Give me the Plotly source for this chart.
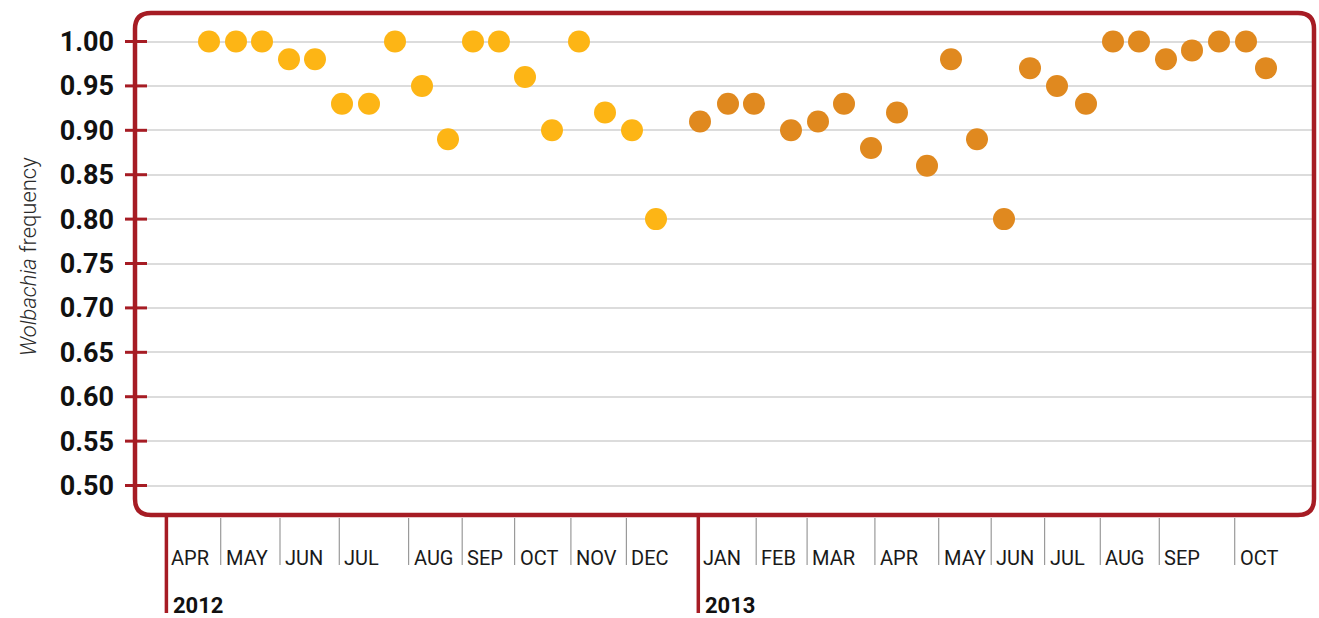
import plotly.graph_objects as go

# ---- data ----
# x = position along the sampling timeline (chart units), y = Wolbachia frequency
x_2012 = [7.4, 10.1, 12.7, 15.4, 18.0, 20.7, 23.4, 26.0, 28.7, 31.3, 33.8, 36.4,
          39.0, 41.7, 44.4, 47.0, 49.7, 52.1]
y_2012 = [1.00, 1.00, 1.00, 0.98, 0.98, 0.93, 0.93, 1.00, 0.95, 0.89, 1.00, 1.00,
          0.96, 0.90, 1.00, 0.92, 0.90, 0.80]

x_2013 = [56.5, 59.3, 61.9, 65.6, 68.3, 70.9, 73.6, 76.2, 79.2, 81.6, 84.2, 86.9,
          89.5, 92.2, 95.1, 97.8, 100.4, 103.1, 105.7, 108.4, 111.1, 113.1]
y_2013 = [0.91, 0.93, 0.93, 0.90, 0.91, 0.93, 0.88, 0.92, 0.86, 0.98, 0.89, 0.80,
          0.97, 0.95, 0.93, 1.00, 1.00, 0.98, 0.99, 1.00, 1.00, 0.97]

month_labels = ["APR", "MAY", "JUN", "JUL", "AUG", "SEP", "OCT", "NOV", "DEC",
                "JAN", "FEB", "MAR", "APR", "MAY", "JUN", "JUL", "AUG", "SEP", "OCT"]
month_starts = [3.14, 8.57, 14.5, 20.43, 27.36, 32.72, 37.96, 43.59, 49.14,
                56.33, 62.12, 67.21, 73.99, 80.37, 85.62, 90.96, 96.53, 102.43, 109.97]

year_labels = ["2012", "2013"]
year_starts = [3.14, 56.33]

y_ticks = [0.50, 0.55, 0.60, 0.65, 0.70, 0.75, 0.80, 0.85, 0.90, 0.95, 1.00]

# ---- styling ----
RED = "#A61C24"
C2012 = "#FDB515"
C2013 = "#E0891F"
FONT = "Roboto, 'Liberation Sans Narrow', sans-serif"

W, H = 1319, 618
ML, MR, MT, MB = 135, 5, 13, 103
PW, PH = W - ML - MR, H - MT - MB

fig = go.Figure()
fig.add_trace(go.Scatter(x=x_2012, y=y_2012, mode="markers", name="2012",
                         marker=dict(size=22, color=C2012, line=dict(width=0)),
                         showlegend=False))
fig.add_trace(go.Scatter(x=x_2013, y=y_2013, mode="markers", name="2013",
                         marker=dict(size=22, color=C2013, line=dict(width=0)),
                         showlegend=False))

shapes = []
# rounded border
rx, ry = 16 / PW, 16 / PH
path = (f"M {rx},0 L {1-rx},0 Q 1,0 1,{ry} L 1,{1-ry} Q 1,1 {1-rx},1 "
        f"L {rx},1 Q 0,1 0,{1-ry} L 0,{ry} Q 0,0 {rx},0 Z")
shapes.append(dict(type="path", xref="paper", yref="paper", path=path,
                   line=dict(color=RED, width=4.5), layer="above"))
# y tick marks crossing the left border
for t in y_ticks:
    shapes.append(dict(type="line", xref="paper", yref="y",
                       x0=-10 / PW, x1=12 / PW, y0=t, y1=t,
                       line=dict(color=RED, width=3), layer="above"))
# month separators
for m, s in zip(month_labels, month_starts):
    if s in year_starts:
        continue
    shapes.append(dict(type="line", xref="x", yref="paper", ysizemode="pixel",
                       yanchor=0, x0=s, x1=s, y0=-3, y1=-50,
                       line=dict(color="#9a9a9a", width=1.2)))
# year lines
for s in year_starts:
    shapes.append(dict(type="line", xref="x", yref="paper", ysizemode="pixel",
                       yanchor=0, x0=s, x1=s, y0=-2, y1=-98,
                       line=dict(color=RED, width=3.5)))

annotations = []
for m, s in zip(month_labels, month_starts):
    annotations.append(dict(x=s, y=0, xref="x", yref="paper", text=m,
                            showarrow=False, xanchor="left", yanchor="middle",
                            xshift=3, yshift=-43,
                            font=dict(family=FONT, size=20, color="#1a1a1a")))
for yl, s in zip(year_labels, year_starts):
    annotations.append(dict(x=s, y=0, xref="x", yref="paper", text=f"<b>{yl}</b>",
                            showarrow=False, xanchor="left", yanchor="middle",
                            xshift=5, yshift=-90,
                            font=dict(family=FONT, size=22, color="#111111")))
annotations.append(dict(x=-107 / PW, y=(515 - 256) / PH, xref="paper", yref="paper",
                        text="<i>Wolbachia</i> frequency", showarrow=False,
                        textangle=-90, xanchor="center", yanchor="middle",
                        font=dict(family=FONT, size=22, color="#2a2a2a",
                                  weight=300)))

fig.update_layout(
    width=W, height=H,
    margin=dict(l=ML, r=MR, t=MT, b=MB, pad=0, autoexpand=False),
    paper_bgcolor="white", plot_bgcolor="white",
    shapes=shapes, annotations=annotations,
    xaxis=dict(range=[0, PW / 10], showgrid=False, zeroline=False,
               showticklabels=False, ticks="", showline=False, automargin=False),
    yaxis=dict(range=[0.4668, 1.0321], tickvals=y_ticks,
               ticktext=[f"{v:.2f}" for v in y_ticks],
               showgrid=True, gridcolor="#dcdcdc", gridwidth=1.5,
               zeroline=False, showline=False, ticks="", automargin=False,
               ticklabelstandoff=20,
               tickfont=dict(family=FONT, size=27, color="#111111", weight="bold")),
)

fig.write_html(
    "out.html",
    config={"displayModeBar": False},
    post_script="document.body.style.margin='0';document.body.style.overflow='hidden';",
)
